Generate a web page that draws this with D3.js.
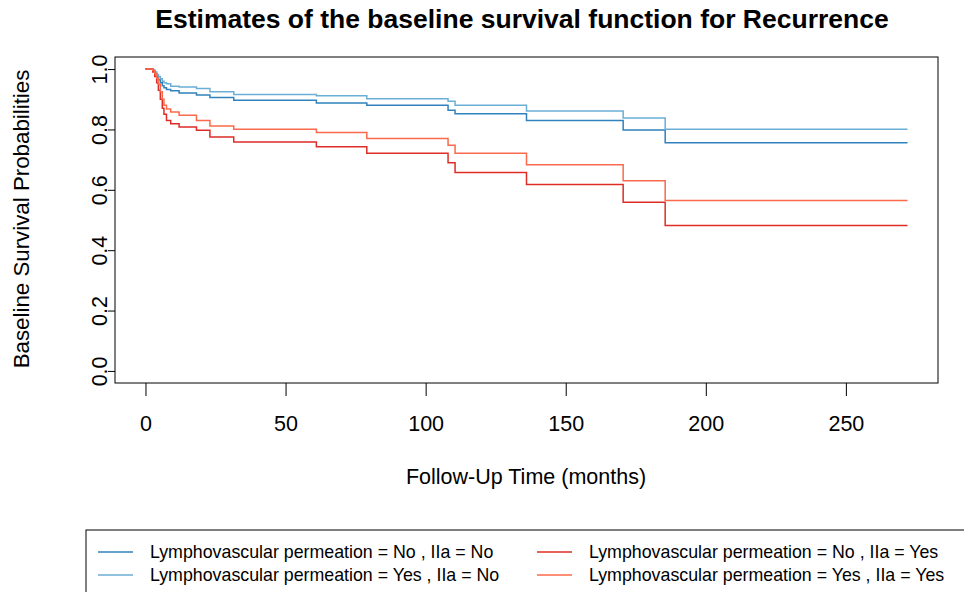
<!DOCTYPE html>
<html><head><meta charset="utf-8">
<script src="https://cdn.jsdelivr.net/npm/d3@7"></script>
<style>body{margin:0;background:#fff}svg{display:block}text{font-family:"Liberation Sans",Arial,sans-serif}</style>
</head><body>
<svg id="c" width="964" height="592"></svg>
<script>
const times = [0, 2.6, 3.3, 4.0, 4.6, 5.3, 6.0, 6.6, 7.5, 9.0, 12.0, 18.2, 23.0, 31.5, 61, 79, 108, 110.5, 136, 170.5, 185.5, 272];
const lvpNoIIaNo   = [1, 0.995, 0.985, 0.975, 0.965, 0.955, 0.945, 0.938, 0.932, 0.928, 0.921, 0.914, 0.906, 0.897, 0.888, 0.880, 0.864, 0.852, 0.830, 0.798, 0.756, 0.756];
const lvpYesIIaNo  = [1, 0.997, 0.990, 0.982, 0.975, 0.968, 0.960, 0.955, 0.951, 0.943, 0.941, 0.936, 0.925, 0.916, 0.912, 0.902, 0.893, 0.880, 0.861, 0.838, 0.801, 0.801];
const lvpNoIIaYes  = [1, 0.990, 0.975, 0.955, 0.930, 0.900, 0.870, 0.850, 0.830, 0.819, 0.808, 0.797, 0.775, 0.758, 0.743, 0.721, 0.690, 0.657, 0.618, 0.559, 0.482, 0.482];
const lvpYesIIaYes = [1, 0.995, 0.985, 0.970, 0.950, 0.925, 0.900, 0.880, 0.868, 0.858, 0.847, 0.830, 0.811, 0.801, 0.790, 0.770, 0.748, 0.721, 0.683, 0.630, 0.565, 0.565];
const seriesNames = ["Lymphovascular permeation = No , IIa = No", "Lymphovascular permeation = Yes , IIa = No",
                     "Lymphovascular permeation = No , IIa = Yes", "Lymphovascular permeation = Yes , IIa = Yes"];
const xTicks = [0, 50, 100, 150, 200, 250];
const yTicks = [0, 0.2, 0.4, 0.6, 0.8, 1.0];
const colors = ["#3182bd", "#6baed6", "#de2d26", "#fb6a4a"];

const series = [lvpNoIIaNo, lvpYesIIaNo, lvpNoIIaYes, lvpYesIIaYes];
const svg = d3.select("#c");
const xPad = (d3.max(times) - 0) * 0.04;
const x = d3.scaleLinear().domain([0 - xPad, d3.max(times) + xPad]).range([115, 938]);
const y = d3.scaleLinear().domain([-0.04, 1.04]).range([383, 57]);

// lines
const line = d3.line().x(d => x(d[0])).y(d => y(d[1])).curve(d3.curveStepAfter);
series.forEach((vals, i) => {
  svg.append("path").datum(times.map((t, j) => [t, vals[j]]))
    .attr("d", line).attr("fill", "none").attr("stroke", colors[i]).attr("stroke-width", 1.5);
});

// box
svg.append("rect").attr("x", 115).attr("y", 57).attr("width", 823).attr("height", 326)
  .attr("fill", "none").attr("stroke", "#000").attr("stroke-width", 1);

// x axis
const xa = svg.append("g").attr("transform", "translate(0,383)")
  .call(d3.axisBottom(x).tickValues(xTicks).tickSize(13).tickPadding(20).tickFormat(d3.format("d")));
xa.select(".domain").remove();
xa.selectAll("text").attr("font-size", 21.5).attr("fill", "#000").style("font-family", "Liberation Sans, Arial, sans-serif");
xa.selectAll("line").attr("stroke", "#000");

// y axis
const ya = svg.append("g").attr("transform", "translate(115,0)")
  .call(d3.axisLeft(y).tickValues(yTicks).tickSize(7).tickPadding(0).tickFormat(d3.format(".1f")));
ya.select(".domain").remove();
ya.selectAll("line").attr("stroke", "#000");
ya.selectAll("text").attr("font-size", 21.5).attr("fill", "#000").attr("x", null).attr("dy", null)
  .attr("text-anchor", "middle").attr("transform", "translate(-8,0) rotate(-90)")
  .style("font-family", "Liberation Sans, Arial, sans-serif");

// titles
svg.append("text").attr("x", 522).attr("y", 28).attr("text-anchor", "middle")
  .attr("font-size", 26.5).attr("font-weight", "bold").text("Estimates of the baseline survival function for Recurrence");
svg.append("text").attr("x", 526).attr("y", 484).attr("text-anchor", "middle")
  .attr("font-size", 21.5).text("Follow-Up Time (months)");
svg.append("text").attr("transform", "translate(29,219) rotate(-90)").attr("text-anchor", "middle")
  .attr("font-size", 22.3).text("Baseline Survival Probabilities");

// legend
svg.append("rect").attr("x", 86).attr("y", 530).attr("width", 900).attr("height", 100)
  .attr("fill", "none").attr("stroke", "#000").attr("stroke-width", 1);
const legPos = [[98, 552], [98, 575], [537, 552], [537, 575]];
seriesNames.forEach((name, i) => {
  const [lx, ly] = legPos[i];
  svg.append("line").attr("x1", lx).attr("x2", lx + 35).attr("y1", ly).attr("y2", ly)
    .attr("stroke", colors[i]).attr("stroke-width", 1.5);
  svg.append("text").attr("x", lx + 52).attr("y", ly + 6).attr("font-size", 17.8).text(name);
});
</script>
</body></html>
